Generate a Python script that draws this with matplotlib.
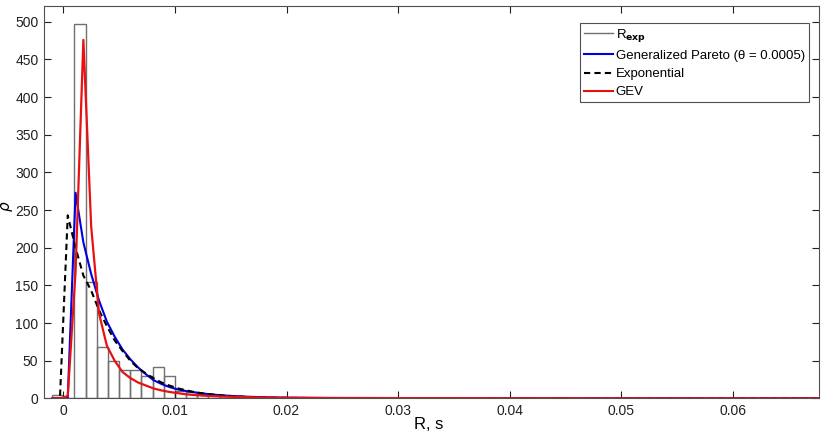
import numpy as np
import matplotlib
matplotlib.use("Agg")
import matplotlib.pyplot as plt
from matplotlib.lines import Line2D

plt.rcParams['font.family'] = ['Liberation Sans', 'DejaVu Sans']

# histogram of R (bin width 0.001 s)
bin_left = [-0.001, 0.000, 0.001, 0.002, 0.003, 0.004, 0.005, 0.006, 0.007, 0.008,
            0.009, 0.010, 0.011, 0.012, 0.013, 0.014, 0.015, 0.016, 0.017, 0.018,
            0.019, 0.020, 0.021, 0.022, 0.023, 0.024, 0.025, 0.026, 0.027, 0.028,
            0.029, 0.030, 0.031, 0.032, 0.033, 0.034, 0.035, 0.036, 0.037, 0.038]
rho_exp = [5, 0, 497, 155, 68, 49, 38, 38, 30, 41,
           29, 10, 8, 6, 5, 3, 3, 2, 2, 1,
           1, 1, 1, 0, 1, 0, 0, 0, 0, 0,
           0, 0, 0, 0, 0, 0, 0, 0, 0, 0]

# fitted densities
r_fit = [-0.0010, -0.0003, 0.0004, 0.0011, 0.0018, 0.0025, 0.0032, 0.0039, 0.0046, 0.0053,
         0.0060, 0.0067, 0.0074, 0.0081, 0.0088, 0.0095, 0.0102, 0.0109, 0.0116, 0.0123,
         0.0130, 0.0137, 0.0144, 0.0151, 0.0158, 0.0165, 0.0172, 0.0179, 0.0186, 0.0193,
         0.0200, 0.0242, 0.0300, 0.0400, 0.0680]
rho_gp = [0, 0, 0, 273, 207, 165, 130, 102, 82, 65,
          52, 41, 32, 24, 19, 15, 12, 10, 8.3, 6.8,
          5.6, 4.6, 3.8, 3.1, 2.6, 2.1, 1.8, 1.5, 1.2, 1.0,
          0.8, 0.3, 0.1, 0.02, 0]
rho_ex = [0, 0, 243, 200, 163, 143, 117, 96, 77, 63,
          50, 40, 33, 26.5, 21, 17, 13.5, 11, 8.7, 7,
          5.6, 4.5, 3.6, 2.9, 2.3, 1.8, 1.5, 1.2, 0.9, 0.7,
          0.6, 0.15, 0.03, 0, 0]
rho_gev = [0, 0, 3, 168, 476, 228, 113, 70, 50, 35,
           27, 21, 17, 13, 10.5, 8.5, 7, 5.5, 4.5, 3.8,
           3.2, 2.7, 2.3, 2.0, 1.7, 1.5, 1.3, 1.2, 1.0, 0.9,
           0.8, 0.5, 0.3, 0.15, 0.03]

fig = plt.figure(figsize=(8.25, 4.33), dpi=100)
ax = fig.add_axes([0.0533, 0.0801, 0.9394, 0.906])

centers = np.array(bin_left) + 0.0005
ax.bar(centers, rho_exp, width=0.001, fill=False, edgecolor='#707070', linewidth=1.0)
ax.plot(r_fit, rho_gp, color='#0000e0', linewidth=1.5)
ax.plot(r_fit, rho_ex, color='black', linewidth=1.5, linestyle=(0, (3, 2)))
ax.plot(r_fit, rho_gev, color='#e81010', linewidth=1.6)

ax.set_xlim(-0.00173, 0.0677)
ax.set_ylim(0, 521)
ax.set_xticks([0, 0.01, 0.02, 0.03, 0.04, 0.05, 0.06])
ax.set_xticklabels(['0', '0.01', '0.02', '0.03', '0.04', '0.05', '0.06'])
ax.set_yticks(np.arange(0, 501, 50))
ax.tick_params(direction='in', top=True, right=True, length=5, width=0.8,
               labelsize=10, colors='#202020', pad=4)
for s in ax.spines.values():
    s.set_color('#505050')
    s.set_linewidth(0.8)

ax.set_xlabel('R, s', fontsize=12)
ax.xaxis.set_label_coords(0.497, -0.048)
ax.set_ylabel(r'$\rho$', fontsize=11)
ax.yaxis.set_label_coords(-0.037, 0.49)

handles = [Line2D([], [], color='#707070', lw=1.0),
           Line2D([], [], color='#0000e0', lw=1.5),
           Line2D([], [], color='black', lw=1.5, linestyle=(0, (3, 2))),
           Line2D([], [], color='#e81010', lw=1.5)]
labels = [r'R$_{\mathbf{exp}}$', 'Generalized Pareto (θ = 0.0005)', 'Exponential', 'GEV']
leg = ax.legend(handles, labels, loc='upper right', bbox_to_anchor=(0.987, 0.957),
                fontsize=9.5, fancybox=False, edgecolor='#505050', framealpha=1,
                handlelength=2.2, handletextpad=0.2, borderpad=0.3,
                labelspacing=0.45, borderaxespad=0)
leg.get_frame().set_linewidth(0.8)

fig.savefig('out.png', dpi=100)
